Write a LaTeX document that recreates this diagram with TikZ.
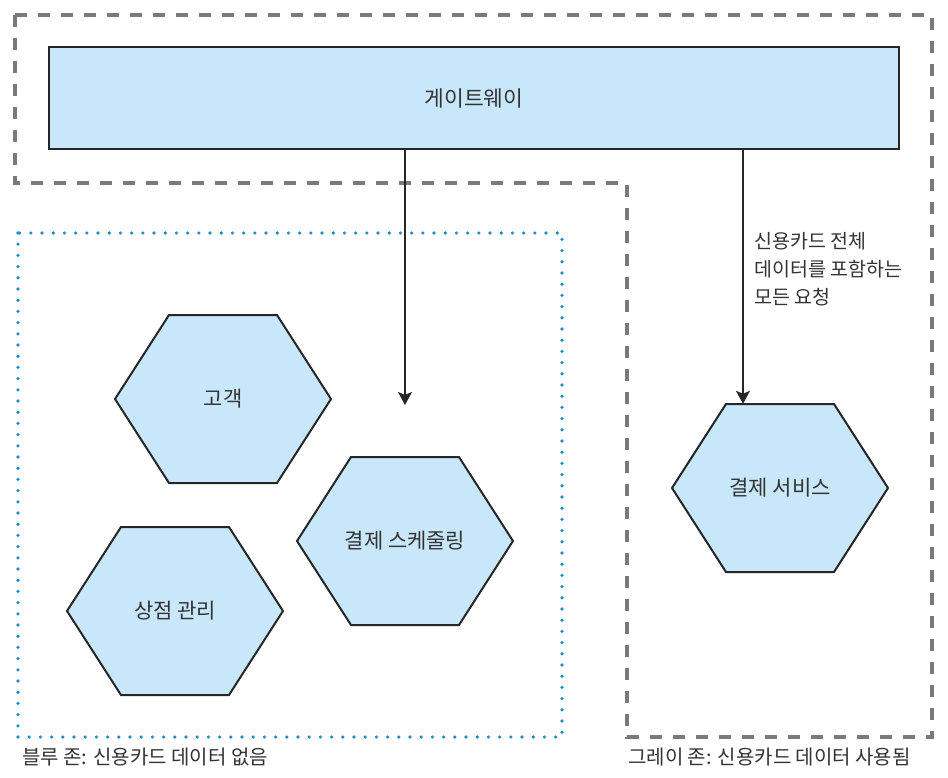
\documentclass[tikz,border=0pt]{standalone}
\usepackage{fontspec}
\setmainfont{Noto Sans CJK KR}
\usetikzlibrary{arrows.meta,calc}
\definecolor{hexfill}{HTML}{C8E7FA}
\definecolor{zonegray}{HTML}{7A7A7A}
\definecolor{zoneblue}{HTML}{1F8AC6}
\definecolor{txt}{HTML}{333333}
\tikzset{
  grayzone/.style={draw=zonegray,line width=4pt,dash pattern=on 12pt off 11pt},
  bluezone/.style={draw=zoneblue,line width=3.6pt,line cap=round,dash pattern=on 0pt off 11.2pt},
  gwbox/.style={draw=black!85,line width=2pt,fill=hexfill,minimum width=850pt,minimum height=102pt,inner sep=0pt,text=txt,font=\fontsize{21.5}{24}\selectfont},
  hexbox/.style={draw=none,minimum width=216pt,minimum height=168pt,inner sep=0pt,text=txt,font=\fontsize{21}{24}\selectfont},
  hexshape/.style={draw=black!85,line width=2pt,fill=hexfill,line join=miter},
  conn/.style={draw=black!85,line width=1.8pt,-{Stealth[length=13pt,width=14pt,inset=3pt]}},
  lbl/.style={text=txt,font=\fontsize{19.5}{28}\selectfont,inner sep=0pt},
  zlbl/.style={text=txt,font=\fontsize{20}{24}\selectfont,inner sep=0pt},
}
\newcommand{\hexat}[2]{%
  \path[hexshape] (#1-108,#2) -- (#1-54,#2-84) -- (#1+54,#2-84) -- (#1+108,#2) -- (#1+54,#2+84) -- (#1-54,#2+84) -- cycle;}
\begin{document}
\begin{tikzpicture}[x=1pt,y=-1pt]
\useasboundingbox (0,0) rectangle (948,778);
% zones
\path[grayzone] (15,15) -- (932,15) -- (932,737) -- (627,737) -- (627,183) -- (15,183) -- cycle;
\path[bluezone] (18,233) rectangle (562,737);
% gateway
\node[gwbox] (gw) at (474,98) {게이트웨이};
% hexagons
\hexat{223}{399}
\node[hexbox] (cust) at (223,399) {고객};
\hexat{405}{541}
\node[hexbox] (sched) at (405,541) {결제 스케줄링};
\hexat{175}{611}
\node[hexbox] (shop) at (175,611) {상점 관리};
\hexat{780}{488}
\node[hexbox] (svc) at (780,488) {결제 서비스};
% connectors
\coordinate (a1) at (405,0);
\coordinate (a1end) at (405,405);
\coordinate (a2) at (743,0);
\draw[conn] (gw.south -| a1) -- (a1end);
\draw[conn] (gw.south -| a2) -- (svc.north -| a2);
% labels
\node[lbl,anchor=north west,align=left] (req) at (754,232) {신용카드 전체\\데이터를 포함하는\\모든 요청};
\node[zlbl,anchor=west] (bluelbl) at (22,757) {블루 존: 신용카드 데이터 없음};
\node[zlbl,anchor=west] (graylbl) at (628,757) {그레이 존: 신용카드 데이터 사용됨};
\end{tikzpicture}
\end{document}
